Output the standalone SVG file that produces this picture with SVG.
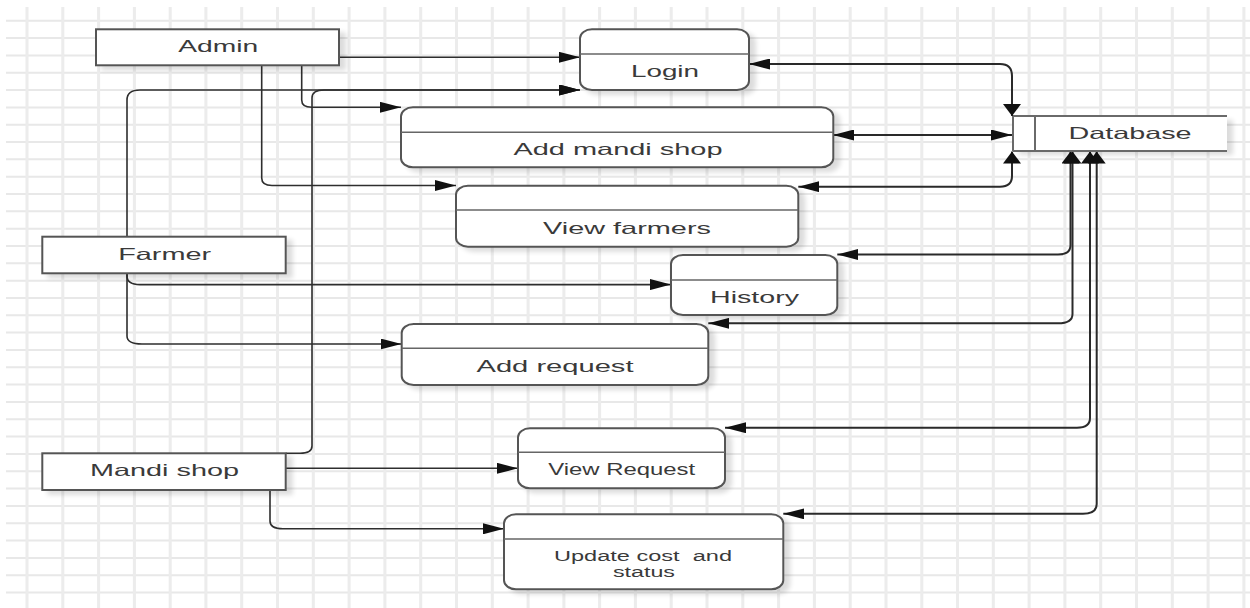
<svg xmlns="http://www.w3.org/2000/svg" width="1250" height="608" viewBox="0 0 1250 608">
  <style>
    .grid-v { stroke: #ececec; stroke-width: 3; fill: none; }
    .grid-h { stroke: #e8e8e8; stroke-width: 2; fill: none; }
    .entity { fill: #ffffff; stroke: #555555; stroke-width: 2; }
    .proc { fill: #ffffff; stroke: #555555; stroke-width: 2; }
    .divider { stroke: #666666; stroke-width: 1.5; }
    .store-line { stroke: #6a6a6a; stroke-width: 2; fill: none; }
    .lbl { font-family: "Liberation Sans", Arial, sans-serif; font-size: 16.5px; fill: #3a3a3a; text-anchor: middle; white-space: pre; }
    .lbl-sm { font-size: 14px; }
    .flow { fill: none; stroke: #2e2e2e; stroke-width: 1.6; }
    .flow-db { fill: none; stroke: #2a2a2a; stroke-width: 2; }
  </style>
  <defs>
    <filter id="shadow" x="-10%" y="-20%" width="130%" height="160%">
      <feGaussianBlur in="SourceAlpha" stdDeviation="2.5"/>
      <feOffset dx="6" dy="4" result="off"/>
      <feComponentTransfer><feFuncA type="linear" slope="0.14"/></feComponentTransfer>
      <feMerge><feMergeNode/><feMergeNode in="SourceGraphic"/></feMerge>
    </filter>
    <!-- arrowhead for horizontal line ends -->
    <marker id="ah" viewBox="0 0 21 11" refX="21" refY="5.5" markerWidth="21" markerHeight="11" markerUnits="userSpaceOnUse" orient="auto-start-reverse">
      <path d="M0,0 L21,5.5 L0,11 Z" fill="#111"/>
    </marker>
    <!-- arrowhead for vertical line ends -->
    <marker id="av" viewBox="0 0 12 18" refX="12" refY="9" markerWidth="12" markerHeight="18" markerUnits="userSpaceOnUse" orient="auto-start-reverse">
      <path d="M0,0 L12,9 L0,18 Z" fill="#111"/>
    </marker>
  </defs>

  <rect width="1250" height="608" fill="#ffffff"/>

  <!-- background grid -->
  <g id="grid">
    <path class="grid-h" d="M6 20.7H1250M6 38H1250M6 55.4H1250M6 72.7H1250M6 90H1250M6 107.4H1250M6 124.7H1250M6 142H1250M6 159.3H1250M6 176.7H1250M6 194H1250M6 211.3H1250M6 228.7H1250M6 246H1250M6 263.3H1250M6 280.7H1250M6 298H1250M6 315.3H1250M6 332.6H1250M6 350H1250M6 367.3H1250M6 384.6H1250M6 402H1250M6 419.3H1250M6 436.6H1250M6 453.9H1250M6 471.3H1250M6 488.6H1250M6 505.9H1250M6 523.3H1250M6 540.6H1250M6 557.9H1250M6 575.3H1250M6 592.6H1250"/>
    <path class="grid-v" d="M27 7V608M62.8 7V608M98.6 7V608M134.4 7V608M170.2 7V608M205.9 7V608M241.7 7V608M277.5 7V608M313.3 7V608M349.1 7V608M384.9 7V608M420.7 7V608M456.5 7V608M492.3 7V608M528.1 7V608M563.9 7V608M599.6 7V608M635.4 7V608M671.2 7V608M707 7V608M742.8 7V608M778.6 7V608M814.4 7V608M850.2 7V608M886 7V608M921.8 7V608M957.5 7V608M993.3 7V608M1029.1 7V608M1064.9 7V608M1100.7 7V608M1136.5 7V608M1172.3 7V608M1208.1 7V608M1243.9 7V608"/>
  </g>

  <!-- data flows -->
  <g id="connectors">
    <!-- Admin -->
    <path class="flow" d="M339,57.3 H580" marker-end="url(#ah)"/>
    <path class="flow" d="M301.7,65.3 V100 Q301.7,107.3 311.7,107.3 H401" marker-end="url(#ah)"/>
    <path class="flow" d="M261.7,65.3 V178 Q261.7,185.5 272,185.5 H456" marker-end="url(#ah)"/>
    <!-- Farmer -->
    <path class="flow" d="M127,236.7 V100 Q127,90 140,90 H580" marker-end="url(#ah)"/>
    <path class="flow" d="M127,273.3 V276 Q127,284.6 140,284.6 H671" marker-end="url(#ah)"/>
    <path class="flow" d="M127,273.3 V336 Q127,344 142,344 H401.5" marker-end="url(#ah)"/>
    <!-- Mandi shop -->
    <path class="flow" d="M285.7,453.3 H300 Q312,453.3 312,446 V98 Q312,90 324,90 H580" marker-end="url(#ah)"/>
    <path class="flow" d="M285.7,468.3 H518" marker-end="url(#ah)"/>
    <path class="flow" d="M270,490 V521 Q270,528.8 283,528.8 H504" marker-end="url(#ah)"/>
    <!-- Database -->
    <path class="flow-db" d="M749,64 H1000 Q1012,64 1012,76 V116" marker-start="url(#ah)" marker-end="url(#av)"/>
    <path class="flow-db" d="M833,135 H1012" marker-start="url(#ah)" marker-end="url(#ah)"/>
    <path class="flow-db" d="M1012,151.5 V176 Q1012,186.7 1000,186.7 H798.3" marker-start="url(#av)" marker-end="url(#ah)"/>
    <path class="flow-db" d="M1070.5,151.5 V245 Q1070.5,254.5 1058,254.5 H837.3" marker-start="url(#av)" marker-end="url(#ah)"/>
    <path class="flow-db" d="M1072.5,151.5 V314 Q1072.5,323.3 1058,323.3 H708.3" marker-start="url(#av)" marker-end="url(#ah)"/>
    <path class="flow-db" d="M1090,151.5 V418 Q1090,427.7 1077,427.7 H725" marker-start="url(#av)" marker-end="url(#ah)"/>
    <path class="flow-db" d="M1096.7,151.5 V504 Q1096.7,513.8 1083,513.8 H783.3" marker-start="url(#av)" marker-end="url(#ah)"/>
  </g>

  <!-- external entities -->
  <g id="admin">
    <rect class="entity" x="96" y="29.3" width="243" height="36" filter="url(#shadow)"/>
    <text class="lbl" x="218.3" y="52" textLength="80" lengthAdjust="spacingAndGlyphs">Admin</text>
  </g>
  <g id="farmer">
    <rect class="entity" x="42.3" y="236.7" width="243.4" height="36.6" filter="url(#shadow)"/>
    <text class="lbl" x="164.7" y="260" textLength="93" lengthAdjust="spacingAndGlyphs">Farmer</text>
  </g>
  <g id="mandi-shop">
    <rect class="entity" x="42.3" y="453.3" width="243.4" height="36.7" filter="url(#shadow)"/>
    <text class="lbl" x="164.5" y="476" textLength="149" lengthAdjust="spacingAndGlyphs">Mandi shop</text>
  </g>

  <!-- processes -->
  <g id="login">
    <rect class="proc" x="580" y="29.3" width="169" height="60.7" rx="12" ry="9" filter="url(#shadow)"/>
    <line class="divider" x1="580" y1="54" x2="749" y2="54"/>
    <text class="lbl" x="665" y="76.5" textLength="68" lengthAdjust="spacingAndGlyphs">Login</text>
  </g>
  <g id="add-mandi-shop">
    <rect class="proc" x="401" y="107.3" width="432.3" height="60" rx="12" ry="9" filter="url(#shadow)"/>
    <line class="divider" x1="401" y1="132.3" x2="833.3" y2="132.3"/>
    <text class="lbl" x="618" y="155" textLength="209" lengthAdjust="spacingAndGlyphs">Add mandi shop</text>
  </g>
  <g id="view-farmers">
    <rect class="proc" x="456" y="185.7" width="342.3" height="61" rx="12" ry="9" filter="url(#shadow)"/>
    <line class="divider" x1="456" y1="210" x2="798.3" y2="210"/>
    <text class="lbl" x="627" y="233.5" textLength="168" lengthAdjust="spacingAndGlyphs">View farmers</text>
  </g>
  <g id="history">
    <rect class="proc" x="671" y="255" width="166.3" height="60" rx="12" ry="9" filter="url(#shadow)"/>
    <line class="divider" x1="671" y1="280" x2="837.3" y2="280"/>
    <text class="lbl" x="754.5" y="302.5" textLength="89" lengthAdjust="spacingAndGlyphs">History</text>
  </g>
  <g id="add-request">
    <rect class="proc" x="401.7" y="324" width="306.6" height="61" rx="12" ry="9" filter="url(#shadow)"/>
    <line class="divider" x1="401.7" y1="348.3" x2="708.3" y2="348.3"/>
    <text class="lbl" x="555" y="371.5" textLength="157" lengthAdjust="spacingAndGlyphs">Add request</text>
  </g>
  <g id="view-request">
    <rect class="proc" x="518" y="428.3" width="207" height="60" rx="12" ry="9" filter="url(#shadow)"/>
    <line class="divider" x1="518" y1="452.3" x2="725" y2="452.3"/>
    <text class="lbl" x="621.7" y="475" textLength="147" lengthAdjust="spacingAndGlyphs">View Request</text>
  </g>
  <g id="update-cost-status">
    <rect class="proc" x="504" y="514.3" width="279.3" height="75" rx="12" ry="9" filter="url(#shadow)"/>
    <line class="divider" x1="504" y1="539" x2="783.3" y2="539"/>
    <text class="lbl lbl-sm" x="643" y="560.5" textLength="178" lengthAdjust="spacingAndGlyphs">Update cost  and</text>
    <text class="lbl lbl-sm" x="644" y="577" textLength="62" lengthAdjust="spacingAndGlyphs">status</text>
  </g>

  <!-- data store -->
  <g id="database">
    <rect x="1013" y="116" width="214" height="35" fill="#ffffff" filter="url(#shadow)"/>
    <path class="store-line" d="M1013,116 H1227 M1013,151 H1227 M1013,116 V151 M1035,116 V151"/>
    <text class="lbl" x="1130" y="138.5" textLength="123" lengthAdjust="spacingAndGlyphs">Database</text>
  </g>
</svg>
